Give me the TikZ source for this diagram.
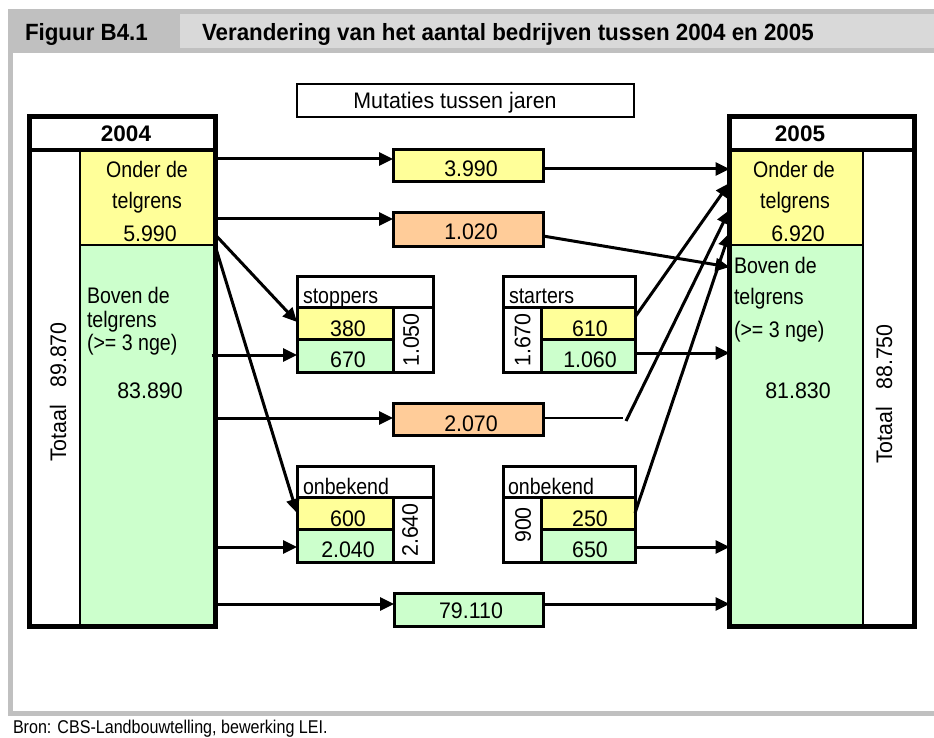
\documentclass[tikz,border=0pt]{standalone}
\usepackage{fontspec}
\setmainfont{Liberation Sans}
\newfontfamily\fW{Liberation Sans}[FakeStretch=0.87]
\newfontfamily\fN{Liberation Sans}[FakeStretch=0.95]
\usetikzlibrary{arrows.meta}
\definecolor{yel}{HTML}{FFFF99}
\definecolor{grn}{HTML}{CCFFCC}
\definecolor{org}{HTML}{FFCC99}
\definecolor{hdark}{HTML}{C0C0C0}
\definecolor{hlight}{HTML}{D9D9D9}
\begin{document}
\begin{tikzpicture}[x=1pt,y=-1pt,
  every node/.style={inner sep=0pt,outer sep=0pt},
  cb/.style={draw,line width=3pt,rectangle},
  thinb/.style={draw,line width=2pt,rectangle},
  num/.style={anchor=base,font=\fN\fontsize{22.5}{26}\selectfont},
  wtxt/.style={anchor=base,font=\fW\fontsize{22.5}{26}\selectfont},
  lbl/.style={anchor=base west,font=\fW\fontsize{22.5}{26}\selectfont},
  rot/.style={rotate=90,font=\fN\fontsize{22.5}{26}\selectfont},
  yr/.style={anchor=base,font=\fontsize{22.5}{26}\selectfont\bfseries},
  ttl/.style={anchor=base west,font=\fN\fontsize{23.5}{27}\selectfont\bfseries},
  arr/.style={line width=3pt,-{Triangle[length=14pt,width=13pt]}}
]
\useasboundingbox (0,0) rectangle (934,738);
% frame / header
\fill[hdark] (8,9) rectangle (934,53);
\fill[hlight] (180,14) rectangle (934,48);
\fill[hdark] (8,53) rectangle (13,716);
\fill[hdark] (8,711) rectangle (934,716);
\node[ttl] (fig) at (25,41) {Figuur B4.1};
\node[ttl] (title) at (202,41) {Verandering van het aantal bedrijven tussen 2004 en 2005};
\node[anchor=base west,font=\fW\fontsize{18.5}{22}\selectfont] (bron) at (13,733) {Bron: CBS-Landbouwtelling, bewerking LEI.};

% Mutaties
\node[draw,line width=2.5pt,fill=white,minimum width=337pt,minimum height=33pt] (mut) at (465.5,100.5) {};
\node[num] (tmut) at (455,109) {Mutaties tussen jaren};

% 2004 block
\node[thinb,fill=white,minimum width=50.5pt,minimum height=476pt] (n04t) at (54.75,388) {};
\node[thinb,fill=yel,minimum width=135.5pt,minimum height=95pt] (n04y) at (147.75,197.5) {};
\node[thinb,fill=grn,minimum width=135.5pt,minimum height=381pt] (n04g) at (147.75,435.5) {};
\node[fill=white,minimum width=186pt,minimum height=33pt] (n04h) at (122.5,133.5) {};
% 2005 block
\node[thinb,fill=white,minimum width=51.5pt,minimum height=476pt] (n05t) at (888.75,388) {};
\node[draw,line width=2.5pt,fill=yel,minimum width=133.5pt,minimum height=95pt] (n05y) at (796.25,197.5) {};
\node[draw,line width=2.5pt,fill=grn,minimum width=133.5pt,minimum height=381pt] (n05g) at (796.25,435.5) {};
\node[fill=white,minimum width=185pt,minimum height=33pt] (n05h) at (822,133.5) {};

% middle boxes
\node[cb,fill=yel,minimum width=150pt,minimum height=32pt] (b3990) at (468,166) {};
\node[cb,fill=org,minimum width=150pt,minimum height=33pt] (b1020) at (468,229.5) {};
\node[cb,fill=org,minimum width=150pt,minimum height=32pt] (b2070) at (468,419) {};
\node[cb,fill=grn,minimum width=149pt,minimum height=33pt] (b79110) at (468.5,609.5) {};

% stoppers
\node[cb,fill=white,minimum width=136pt,minimum height=31pt] (stH) at (365,291.5) {};
\node[cb,fill=yel,minimum width=96pt,minimum height=32pt] (stY) at (345,323) {};
\node[cb,fill=grn,minimum width=96pt,minimum height=33pt] (stG) at (345,355.5) {};
\node[cb,fill=white,minimum width=40pt,minimum height=65pt] (stT) at (413,339.5) {};
% starters
\node[cb,fill=white,minimum width=132pt,minimum height=31pt] (saH) at (569,291.5) {};
\node[cb,fill=white,minimum width=38pt,minimum height=65pt] (saT) at (522,339.5) {};
\node[cb,fill=yel,minimum width=94pt,minimum height=32pt] (saY) at (588,323) {};
\node[cb,fill=grn,minimum width=94pt,minimum height=33pt] (saG) at (588,355.5) {};
% onbekend left
\node[cb,fill=white,minimum width=136pt,minimum height=31pt] (oLH) at (365,481.5) {};
\node[cb,fill=yel,minimum width=96pt,minimum height=32pt] (oLY) at (345,513) {};
\node[cb,fill=grn,minimum width=96pt,minimum height=33pt] (oLG) at (345,545.5) {};
\node[cb,fill=white,minimum width=40pt,minimum height=65pt] (oLT) at (413,529.5) {};
% onbekend right
\node[cb,fill=white,minimum width=132pt,minimum height=31pt] (oRH) at (569,481.5) {};
\node[cb,fill=white,minimum width=38pt,minimum height=65pt] (oRT) at (522,529.5) {};
\node[cb,fill=yel,minimum width=94pt,minimum height=32pt] (oRY) at (588,513) {};
\node[cb,fill=grn,minimum width=94pt,minimum height=33pt] (oRG) at (588,545.5) {};

% outer frames of year blocks (anchors for connectors)
\node[draw,line width=5pt,minimum width=186pt,minimum height=509pt] (n04) at (122.5,371.5) {};
\node[draw,line width=5pt,minimum width=185pt,minimum height=509pt] (n05) at (822,371.5) {};
\draw[line width=4pt] (n04h.south west) -- (n04h.south east);
\draw[line width=4pt] (n05h.south west) -- (n05h.south east);

% arrows from 2004
\draw[arr] (n04.east |- 0,159) -- (b3990.west |- 0,159);
\draw[arr] (n04.east |- 0,219) -- (b1020.west |- 0,219);
\draw[arr] (n04.east |- 0,235) -- (stY.west |- 0,322);
\draw[arr] ([xshift=-4pt]n04.east |- 0,355) -- (stG.west |- 0,355);
\draw[arr] (n04.east |- 0,247) -- (oLY.west |- 0,513);
\draw[arr] (n04.east |- 0,418) -- (b2070.west |- 0,418);
\draw[arr] (n04.east |- 0,547) -- (oLG.west |- 0,547);
\draw[arr] (n04.east |- 0,604) -- (b79110.west |- 0,604);
% arrows into 2005
\coordinate (c2070a) at (623,418);
\coordinate (c2070b) at (626,421);
\draw[arr] (b3990.east |- 0,169) -- (n05.west |- 0,169);
\draw[arr] (b1020.east |- 0,236) -- (n05.west |- 0,267);
\draw[arr] (saY.east |- 0,317) -- (n05.west |- 0,183);
\draw[line width=1.5pt] (b2070.east |- 0,418) -- (c2070a);
\draw[arr] (c2070b) -- (n05.west |- 0,210);
\draw[arr] (saG.east |- 0,353) -- (n05.west |- 0,353);
\draw[arr] (oRY.east |- 0,513) -- (n05.west |- 0,233);
\draw[arr] (oRG.east |- 0,547) -- (n05.west |- 0,547);
\draw[arr] (b79110.east |- 0,604) -- (n05.west |- 0,604);

% texts 2004
\node[yr] (t04) at (126,142) {2004};
\node[wtxt] (t04a) at (147,178) {Onder de};
\node[wtxt] (t04b) at (147,209) {telgrens};
\node[num] (t04c) at (150,241) {5.990};
\node[lbl] (t04d) at (87,303) {Boven de};
\node[lbl] (t04e) at (87,327) {telgrens};
\node[lbl] (t04f) at (87,350) {(>= 3 nge)};
\node[num] (t04g) at (150,398) {83.890};
\node[rot] (t04h) at (58,392) {Totaal\hspace{17pt}89.870};
% texts 2005
\node[yr] (t05) at (800,142) {2005};
\node[wtxt] (t05a) at (794,178) {Onder de};
\node[wtxt] (t05b) at (795,208) {telgrens};
\node[num] (t05c) at (798,241) {6.920};
\node[lbl] (t05d) at (734,273) {Boven de};
\node[lbl] (t05e) at (734,304) {telgrens};
\node[lbl] (t05f) at (734,337) {(>= 3 nge)};
\node[num] (t05g) at (798,398) {81.830};
\node[rot] (t05h) at (884,394) {Totaal\hspace{17pt}88.750};
% middle texts
\node[num] (t3990) at (471,177) {3.990};
\node[num] (t1020) at (471,240) {1.020};
\node[num] (t2070) at (471,431) {2.070};
\node[num] (t79110) at (471,618) {79.110};
\node[lbl] (tst) at (303,303) {stoppers};
\node[num] (t380) at (348,336) {380};
\node[num] (t670) at (348,367) {670};
\node[rot] (t1050) at (411,340) {1.050};
\node[lbl] (tsa) at (509,303) {starters};
\node[num] (t610) at (590,336) {610};
\node[num] (t1060) at (590,367) {1.060};
\node[rot] (t1670) at (522.5,340) {1.670};
\node[lbl] (toL) at (303,494) {onbekend};
\node[num] (t600) at (348,526) {600};
\node[num] (t2040) at (348,557) {2.040};
\node[rot] (t2640) at (410,530) {2.640};
\node[lbl] (toR) at (508,494) {onbekend};
\node[num] (t250) at (590,526) {250};
\node[num] (t650) at (590,557) {650};
\node[rot] (t900) at (523,525) {900};
\end{tikzpicture}
\end{document}
